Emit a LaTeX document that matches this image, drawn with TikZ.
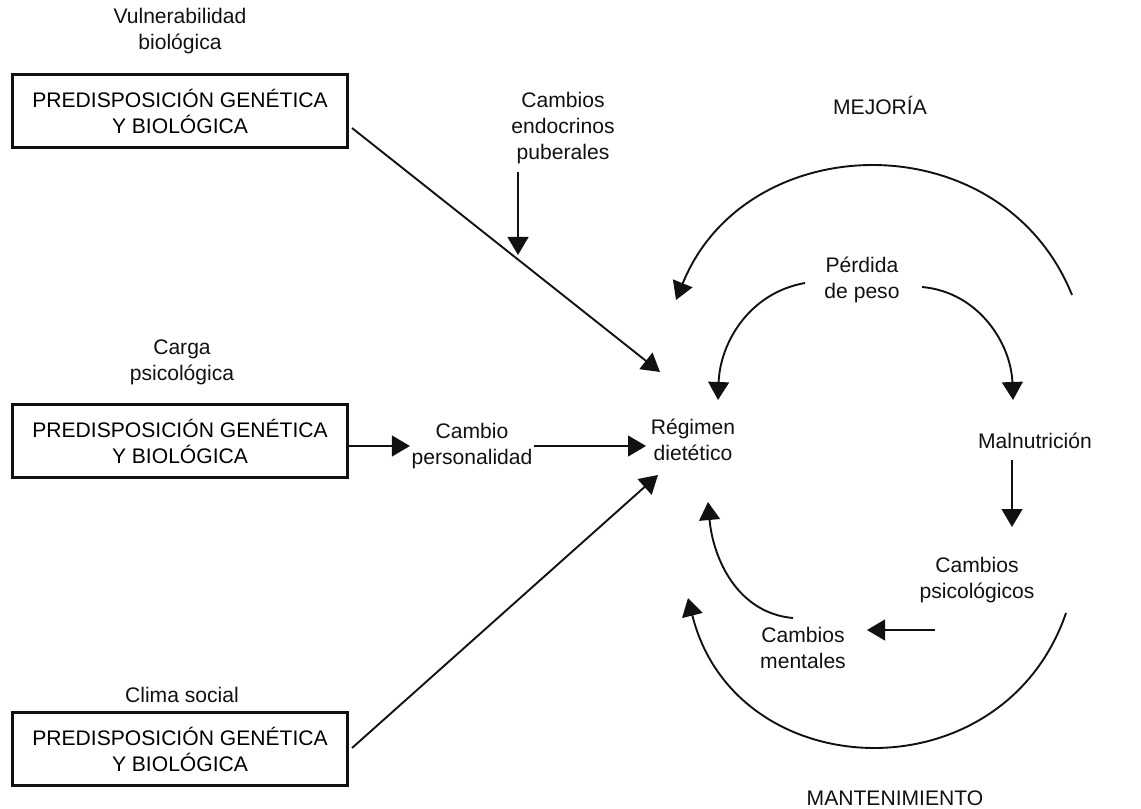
\documentclass[tikz,border=0pt]{standalone}
\usepackage{fontspec}
\setmainfont{Liberation Sans}
\usepackage{tikz}
\usetikzlibrary{arrows.meta,positioning}
\definecolor{ink}{HTML}{111111}
\newcommand{\labelfont}{\fontsize{15}{18.5}\selectfont}
\tikzset{
  factorbox/.style={
    rectangle, draw=ink, line width=1.6pt,
    minimum width=8.375cm, minimum height=1.825cm,
    align=center, font=\labelfont, inner sep=0pt
  },
  textnode/.style={align=center, font=\labelfont, inner sep=1pt, text=ink},
  flowarrow/.style={-{Triangle[length=4.5mm,width=5.2mm]}, line width=1.35pt, color=ink},
}

\begin{document}
\begin{tikzpicture}[x=0.025cm, y=-0.025cm]
  \useasboundingbox (0,0) rectangle (1141,808);

  % factores de la izquierda
  \node[textnode] (vul) at (180,31) {Vulnerabilidad\\biológica};
  \node[factorbox] (box1) at (180,111) {PREDISPOSICIÓN GENÉTICA\\Y BIOLÓGICA};
  \node[textnode] (carga) at (182,362) {Carga\\psicológica};
  \node[factorbox] (box2) at (180,441) {PREDISPOSICIÓN GENÉTICA\\Y BIOLÓGICA};
  \node[textnode] (clima) at (182,695) {Clima social};
  \node[factorbox] (box3) at (180,749) {PREDISPOSICIÓN GENÉTICA\\Y BIOLÓGICA};

  % centro
  \node[textnode] (endo) at (563,128) {Cambios\\endocrinos\\puberales};
  \node[textnode] (pers) at (472,446) {Cambio\\personalidad};
  \node[textnode] (reg) at (693,440) {Régimen\\dietético};

  % ciclo de la derecha
  \node[textnode] (mej) at (880,105) {MEJORÍA};
  \node[textnode] (perd) at (862,280) {Pérdida\\de peso};
  \node[textnode] (maln) at (1035,441) {Malnutrición};
  \node[textnode] (psic) at (977,580) {Cambios\\psicológicos};
  \node[textnode] (ment) at (803,648) {Cambios\\mentales};
  \node[textnode] (mant) at (895,798) {MANTENIMIENTO};

  \coordinate (endotip) at (518,255);
  \coordinate (mejstart) at (1072,295);
  \coordinate (mejend) at (676,300);
  \coordinate (mantstart) at (1066,613);
  \coordinate (mantend) at (688,598);

  % flechas
  \draw[flowarrow] ([shift={(172,17)}]box1.center) -- ([shift={(-33,-68)}]reg.center);
  \draw[flowarrow] ([shift={(-45,44)}]endo.center) -- (endotip);
  \draw[flowarrow] (box2.east |- pers) -- (pers.west);
  \draw[flowarrow] (pers.east) -- ([shift={(-47,6)}]reg.center);
  \draw[flowarrow] ([shift={(172,-1)}]box3.center) -- ([shift={(-35,35)}]reg.center);

  \draw[flowarrow] (mejstart) to[out=112, in=68, looseness=1.21] (mejend);
  \draw[flowarrow] ([shift={(-57,3)}]perd.center) to[out=190, in=88] ([shift={(25,-40)}]reg.center);
  \draw[flowarrow] ([shift={(60,7)}]perd.center) to[out=-5, in=92] ([shift={(-22,-41)}]maln.center);
  \draw[flowarrow] ([shift={(-23,19)}]maln.center) -- ([shift={(35,-53)}]psic.center);
  \draw[flowarrow] ([shift={(-42,50)}]psic.center) -- ([shift={(64,-18)}]ment.center);
  \draw[flowarrow] ([shift={(-10,-30)}]ment.center) to[out=175, in=-85] ([shift={(15,62)}]reg.center);
  \draw[flowarrow] (mantstart) to[out=-109, in=-76, looseness=1.32] (mantend);
\end{tikzpicture}
\end{document}
